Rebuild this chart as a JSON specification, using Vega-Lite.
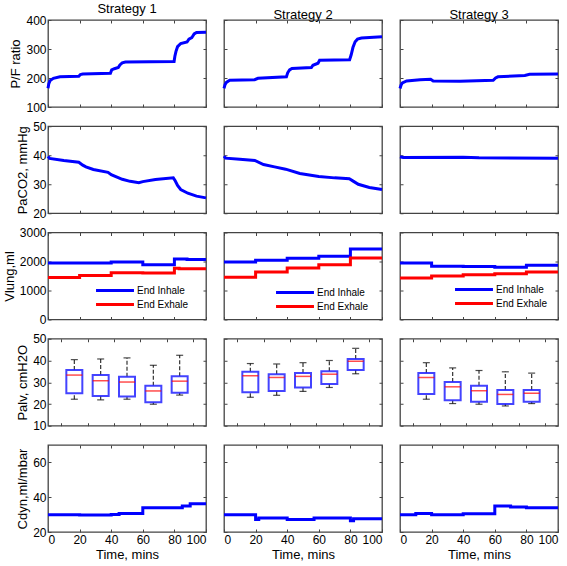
{
"$schema": "https://vega.github.io/schema/vega-lite/v6.json",
"padding": {"left": 2, "top": 2, "right": 2, "bottom": 2},
"datasets": {
"pf": [
{"s":1,"t":0,"v":165},{"s":1,"t":0.5,"v":180},{"s":1,"t":1.3,"v":191},{"s":1,"t":3.4,"v":199},{"s":1,"t":7.6,"v":204},{"s":1,"t":19.5,"v":206},{"s":1,"t":20.5,"v":212},{"s":1,"t":22,"v":214},{"s":1,"t":39.5,"v":216},{"s":1,"t":40.3,"v":228},{"s":1,"t":42,"v":232},{"s":1,"t":44.5,"v":236},{"s":1,"t":45.5,"v":245},{"s":1,"t":47,"v":252},{"s":1,"t":49,"v":255},{"s":1,"t":79.8,"v":257},{"s":1,"t":80.3,"v":275},{"s":1,"t":81,"v":292},{"s":1,"t":82,"v":308},{"s":1,"t":84,"v":319},{"s":1,"t":88,"v":324},{"s":1,"t":89.2,"v":334},{"s":1,"t":91,"v":339},{"s":1,"t":92.5,"v":352},{"s":1,"t":94,"v":357},{"s":1,"t":100,"v":358},
{"s":2,"t":0,"v":164},{"s":2,"t":0.7,"v":178},{"s":2,"t":1.5,"v":185},{"s":2,"t":3.6,"v":192},{"s":2,"t":19.4,"v":194},{"s":2,"t":21.5,"v":199},{"s":2,"t":39.5,"v":204},{"s":2,"t":40.3,"v":218},{"s":2,"t":41.5,"v":228},{"s":2,"t":43,"v":233},{"s":2,"t":55.3,"v":236},{"s":2,"t":56.3,"v":244},{"s":2,"t":59.5,"v":251},{"s":2,"t":60.5,"v":261},{"s":2,"t":79.5,"v":263},{"s":2,"t":80.5,"v":280},{"s":2,"t":81.6,"v":305},{"s":2,"t":83,"v":325},{"s":2,"t":84.5,"v":334},{"s":2,"t":87,"v":338},{"s":2,"t":100,"v":342},
{"s":3,"t":0,"v":164},{"s":3,"t":0.7,"v":176},{"s":3,"t":1.5,"v":183},{"s":3,"t":4.2,"v":190},{"s":3,"t":12.7,"v":194},{"s":3,"t":19.4,"v":196},{"s":3,"t":21,"v":190},{"s":3,"t":38,"v":189},{"s":3,"t":59,"v":192},{"s":3,"t":60.5,"v":200},{"s":3,"t":62,"v":204},{"s":3,"t":79,"v":209},{"s":3,"t":82,"v":213},{"s":3,"t":100,"v":214}
],
"paco2": [
{"s":1,"t":0,"v":39.6},{"s":1,"t":1,"v":38.9},{"s":1,"t":10,"v":38.2},{"s":1,"t":19.5,"v":37.6},{"s":1,"t":22,"v":36.6},{"s":1,"t":24,"v":36.0},{"s":1,"t":28.7,"v":35.1},{"s":1,"t":38,"v":34.1},{"s":1,"t":40,"v":33.3},{"s":1,"t":47,"v":31.7},{"s":1,"t":52,"v":31},{"s":1,"t":57.5,"v":30.5},{"s":1,"t":60,"v":30.9},{"s":1,"t":68,"v":31.6},{"s":1,"t":79.3,"v":32.2},{"s":1,"t":80.5,"v":31.2},{"s":1,"t":82,"v":29.6},{"s":1,"t":84,"v":28.2},{"s":1,"t":88.5,"v":26.9},{"s":1,"t":94,"v":25.9},{"s":1,"t":100,"v":25.3},
{"s":2,"t":0,"v":39.7},{"s":2,"t":1,"v":39.0},{"s":2,"t":10,"v":38.6},{"s":2,"t":19.5,"v":38.2},{"s":2,"t":25,"v":36.8},{"s":2,"t":32,"v":36},{"s":2,"t":39,"v":35.2},{"s":2,"t":48,"v":33.7},{"s":2,"t":60,"v":32.7},{"s":2,"t":70,"v":32.2},{"s":2,"t":79.3,"v":31.9},{"s":2,"t":82,"v":31},{"s":2,"t":85,"v":30},{"s":2,"t":92,"v":28.9},{"s":2,"t":100,"v":28.2},
{"s":3,"t":0,"v":39.5},{"s":3,"t":2,"v":39.2},{"s":3,"t":40,"v":39.3},{"s":3,"t":50,"v":39.1},{"s":3,"t":100,"v":39.0}
],
"vlung": [
{"s":1,"k":"End Inhale","t":0,"v":1950},{"s":1,"k":"End Inhale","t":40,"v":1980},{"s":1,"k":"End Inhale","t":60,"v":1890},{"s":1,"k":"End Inhale","t":80,"v":2090},{"s":1,"k":"End Inhale","t":88,"v":2070},{"s":1,"k":"End Inhale","t":100,"v":2070},
{"s":1,"k":"End Exhale","t":0,"v":1450},{"s":1,"k":"End Exhale","t":20,"v":1520},{"s":1,"k":"End Exhale","t":40,"v":1610},{"s":1,"k":"End Exhale","t":60,"v":1600},{"s":1,"k":"End Exhale","t":80,"v":1770},{"s":1,"k":"End Exhale","t":83,"v":1750},{"s":1,"k":"End Exhale","t":100,"v":1750},
{"s":2,"k":"End Inhale","t":0,"v":1980},{"s":2,"k":"End Inhale","t":20,"v":2040},{"s":2,"k":"End Inhale","t":40,"v":2110},{"s":2,"k":"End Inhale","t":60,"v":2180},{"s":2,"k":"End Inhale","t":80,"v":2430},{"s":2,"k":"End Inhale","t":100,"v":2430},
{"s":2,"k":"End Exhale","t":0,"v":1460},{"s":2,"k":"End Exhale","t":20,"v":1640},{"s":2,"k":"End Exhale","t":40,"v":1775},{"s":2,"k":"End Exhale","t":60,"v":1890},{"s":2,"k":"End Exhale","t":80,"v":2120},{"s":2,"k":"End Exhale","t":100,"v":2120},
{"s":3,"k":"End Inhale","t":0,"v":1950},{"s":3,"k":"End Inhale","t":20,"v":1840},{"s":3,"k":"End Inhale","t":40,"v":1830},{"s":3,"k":"End Inhale","t":60,"v":1800},{"s":3,"k":"End Inhale","t":80,"v":1870},{"s":3,"k":"End Inhale","t":100,"v":1870},
{"s":3,"k":"End Exhale","t":0,"v":1430},{"s":3,"k":"End Exhale","t":20,"v":1500},{"s":3,"k":"End Exhale","t":40,"v":1540},{"s":3,"k":"End Exhale","t":60,"v":1580},{"s":3,"k":"End Exhale","t":80,"v":1640},{"s":3,"k":"End Exhale","t":100,"v":1640}
],
"palv": [
{"s":1,"t":10,"lo":22.2,"q1":24.9,"med":33.3,"q3":35.6,"hi":40.4},{"s":1,"t":30,"lo":21.9,"q1":23.7,"med":30.7,"q3":33.3,"hi":40.7},{"s":1,"t":50,"lo":22.2,"q1":23.5,"med":30.1,"q3":32.5,"hi":41.2},{"s":1,"t":70,"lo":19.9,"q1":20.8,"med":26,"q3":28.4,"hi":37.8},{"s":1,"t":90,"lo":24.1,"q1":25.2,"med":30.5,"q3":32.8,"hi":42.4},
{"s":2,"t":10,"lo":23.1,"q1":25.4,"med":33,"q3":34.8,"hi":38.6},{"s":2,"t":30,"lo":24,"q1":26,"med":32.2,"q3":33.7,"hi":38.4},{"s":2,"t":50,"lo":25.8,"q1":27.6,"med":32.7,"q3":34.2,"hi":39},{"s":2,"t":70,"lo":27.6,"q1":29.2,"med":33.7,"q3":35.1,"hi":40},{"s":2,"t":90,"lo":33.9,"q1":35.6,"med":39.7,"q3":40.7,"hi":45.6},
{"s":3,"t":10,"lo":22.2,"q1":24.6,"med":32.2,"q3":34.3,"hi":39},{"s":3,"t":30,"lo":20.2,"q1":21.7,"med":27.9,"q3":30.1,"hi":36.6},{"s":3,"t":50,"lo":19.9,"q1":21,"med":26.1,"q3":28.4,"hi":35.4},{"s":3,"t":70,"lo":19.1,"q1":20,"med":24.4,"q3":26.4,"hi":34.8},{"s":3,"t":90,"lo":20.2,"q1":21,"med":24.9,"q3":26.4,"hi":34.2}
],
"cdyn": [
{"s":1,"t":0,"v":29.9},{"s":1,"t":20,"v":29.7},{"s":1,"t":40,"v":30.1},{"s":1,"t":45,"v":30.7},{"s":1,"t":60,"v":33.9},{"s":1,"t":85,"v":34.9},{"s":1,"t":90,"v":36.2},{"s":1,"t":100,"v":36.2},
{"s":2,"t":0,"v":29.9},{"s":2,"t":20,"v":27.2},{"s":2,"t":22,"v":28},{"s":2,"t":40,"v":27.2},{"s":2,"t":57,"v":28},{"s":2,"t":80,"v":26.5},{"s":2,"t":82,"v":27.6},{"s":2,"t":100,"v":27.6},
{"s":3,"t":0,"v":29.9},{"s":3,"t":10,"v":30.7},{"s":3,"t":20,"v":29.9},{"s":3,"t":40,"v":30.5},{"s":3,"t":60,"v":34.9},{"s":3,"t":70,"v":34.3},{"s":3,"t":80,"v":33.9},{"s":3,"t":100,"v":33.9}
]
},
"columns": 3,
"spacing": {"row": 19.25, "column": 18},
"bounds": "flush",
"resolve": {"scale": {"color": "independent"}},
"concat": [
{"width":158,"height":87,"title":"Strategy 1","data":{"name":"pf"},"transform":[{"filter":"datum.s==1"}],
 "layer":[
 {"mark":"line","encoding":{"x":{"field":"t","type":"quantitative","scale":{"domain":[0,100]},"axis":{"values":[0,20,40,60,80,100],"labels":false,"title":null}},"y":{"field":"v","type":"quantitative","scale":{"domain":[100,400]},"axis":{"values":[100,200,300,400],"title":"P/F ratio"}}}},
 {"mark":{"type":"line","opacity":0},"encoding":{"x":{"field":"t","type":"quantitative","axis":{"orient":"top","values":[0,20,40,60,80,100],"labels":false,"title":null}},"y":{"field":"v","type":"quantitative","axis":{"orient":"right","values":[100,200,300,400],"labels":false,"title":null}}}}
 ],"resolve":{"axis":{"x":"independent","y":"independent"}}},
{"width":158,"height":87,"title":"Strategy 2","data":{"name":"pf"},"transform":[{"filter":"datum.s==2"}],
 "layer":[
 {"mark":"line","encoding":{"x":{"field":"t","type":"quantitative","scale":{"domain":[0,100]},"axis":{"values":[0,20,40,60,80,100],"labels":false,"title":null}},"y":{"field":"v","type":"quantitative","scale":{"domain":[100,400]},"axis":{"values":[100,200,300,400],"labels":false,"title":null}}}},
 {"mark":{"type":"line","opacity":0},"encoding":{"x":{"field":"t","type":"quantitative","axis":{"orient":"top","values":[0,20,40,60,80,100],"labels":false,"title":null}},"y":{"field":"v","type":"quantitative","axis":{"orient":"right","values":[100,200,300,400],"labels":false,"title":null}}}}
 ],"resolve":{"axis":{"x":"independent","y":"independent"}}},
{"width":158,"height":87,"title":"Strategy 3","data":{"name":"pf"},"transform":[{"filter":"datum.s==3"}],
 "layer":[
 {"mark":"line","encoding":{"x":{"field":"t","type":"quantitative","scale":{"domain":[0,100]},"axis":{"values":[0,20,40,60,80,100],"labels":false,"title":null}},"y":{"field":"v","type":"quantitative","scale":{"domain":[100,400]},"axis":{"values":[100,200,300,400],"labels":false,"title":null}}}},
 {"mark":{"type":"line","opacity":0},"encoding":{"x":{"field":"t","type":"quantitative","axis":{"orient":"top","values":[0,20,40,60,80,100],"labels":false,"title":null}},"y":{"field":"v","type":"quantitative","axis":{"orient":"right","values":[100,200,300,400],"labels":false,"title":null}}}}
 ],"resolve":{"axis":{"x":"independent","y":"independent"}}},

{"width":158,"height":87,"data":{"name":"paco2"},"transform":[{"filter":"datum.s==1"}],
 "layer":[
 {"mark":"line","encoding":{"x":{"field":"t","type":"quantitative","scale":{"domain":[0,100]},"axis":{"values":[0,20,40,60,80,100],"labels":false,"title":null}},"y":{"field":"v","type":"quantitative","scale":{"domain":[20,50]},"axis":{"values":[20,30,40,50],"title":"PaCO2, mmHg"}}}},
 {"mark":{"type":"line","opacity":0},"encoding":{"x":{"field":"t","type":"quantitative","axis":{"orient":"top","values":[0,20,40,60,80,100],"labels":false,"title":null}},"y":{"field":"v","type":"quantitative","axis":{"orient":"right","values":[20,30,40,50],"labels":false,"title":null}}}}
 ],"resolve":{"axis":{"x":"independent","y":"independent"}}},
{"width":158,"height":87,"data":{"name":"paco2"},"transform":[{"filter":"datum.s==2"}],
 "layer":[
 {"mark":"line","encoding":{"x":{"field":"t","type":"quantitative","scale":{"domain":[0,100]},"axis":{"values":[0,20,40,60,80,100],"labels":false,"title":null}},"y":{"field":"v","type":"quantitative","scale":{"domain":[20,50]},"axis":{"values":[20,30,40,50],"labels":false,"title":null}}}},
 {"mark":{"type":"line","opacity":0},"encoding":{"x":{"field":"t","type":"quantitative","axis":{"orient":"top","values":[0,20,40,60,80,100],"labels":false,"title":null}},"y":{"field":"v","type":"quantitative","axis":{"orient":"right","values":[20,30,40,50],"labels":false,"title":null}}}}
 ],"resolve":{"axis":{"x":"independent","y":"independent"}}},
{"width":158,"height":87,"data":{"name":"paco2"},"transform":[{"filter":"datum.s==3"}],
 "layer":[
 {"mark":"line","encoding":{"x":{"field":"t","type":"quantitative","scale":{"domain":[0,100]},"axis":{"values":[0,20,40,60,80,100],"labels":false,"title":null}},"y":{"field":"v","type":"quantitative","scale":{"domain":[20,50]},"axis":{"values":[20,30,40,50],"labels":false,"title":null}}}},
 {"mark":{"type":"line","opacity":0},"encoding":{"x":{"field":"t","type":"quantitative","axis":{"orient":"top","values":[0,20,40,60,80,100],"labels":false,"title":null}},"y":{"field":"v","type":"quantitative","axis":{"orient":"right","values":[20,30,40,50],"labels":false,"title":null}}}}
 ],"resolve":{"axis":{"x":"independent","y":"independent"}}},

{"width":158,"height":87,"data":{"name":"vlung"},"transform":[{"filter":"datum.s==1"}],
 "layer":[
 {"mark":{"type":"line","interpolate":"step-after"},"encoding":{"x":{"field":"t","type":"quantitative","scale":{"domain":[0,100]},"axis":{"values":[0,20,40,60,80,100],"labels":false,"title":null}},"y":{"field":"v","type":"quantitative","scale":{"domain":[0,3000]},"axis":{"values":[0,1000,2000,3000],"format":"d","title":"Vlung,ml"}},
  "color":{"field":"k","type":"nominal","scale":{"domain":["End Inhale","End Exhale"],"range":["#0000ff","#ff0000"]},"legend":{"orient":"none","legendX":62,"legendY":53,"title":null,"symbolType":"M-10,0H10","symbolSize":14.4,"symbolStrokeWidth":3,"labelFont":"Liberation Sans","labelFontSize":10,"labelColor":"#000","rowPadding":2,"labelOffset":17,"padding":0}}}},
 {"mark":{"type":"line","opacity":0},"encoding":{"x":{"field":"t","type":"quantitative","axis":{"orient":"top","values":[0,20,40,60,80,100],"labels":false,"title":null}},"y":{"field":"v","type":"quantitative","axis":{"orient":"right","values":[0,1000,2000,3000],"labels":false,"title":null}}}}
 ],"resolve":{"axis":{"x":"independent","y":"independent"}}},
{"width":158,"height":87,"data":{"name":"vlung"},"transform":[{"filter":"datum.s==2"}],
 "layer":[
 {"mark":{"type":"line","interpolate":"step-after"},"encoding":{"x":{"field":"t","type":"quantitative","scale":{"domain":[0,100]},"axis":{"values":[0,20,40,60,80,100],"labels":false,"title":null}},"y":{"field":"v","type":"quantitative","scale":{"domain":[0,3000]},"axis":{"values":[0,1000,2000,3000],"labels":false,"title":null}},
  "color":{"field":"k","type":"nominal","scale":{"domain":["End Inhale","End Exhale"],"range":["#0000ff","#ff0000"]},"legend":{"orient":"none","legendX":66,"legendY":55,"title":null,"symbolType":"M-10,0H10","symbolSize":14.4,"symbolStrokeWidth":3,"labelFont":"Liberation Sans","labelFontSize":10,"labelColor":"#000","rowPadding":2,"labelOffset":17,"padding":0}}}},
 {"mark":{"type":"line","opacity":0},"encoding":{"x":{"field":"t","type":"quantitative","axis":{"orient":"top","values":[0,20,40,60,80,100],"labels":false,"title":null}},"y":{"field":"v","type":"quantitative","axis":{"orient":"right","values":[0,1000,2000,3000],"labels":false,"title":null}}}}
 ],"resolve":{"axis":{"x":"independent","y":"independent"}}},
{"width":158,"height":87,"data":{"name":"vlung"},"transform":[{"filter":"datum.s==3"}],
 "layer":[
 {"mark":{"type":"line","interpolate":"step-after"},"encoding":{"x":{"field":"t","type":"quantitative","scale":{"domain":[0,100]},"axis":{"values":[0,20,40,60,80,100],"labels":false,"title":null}},"y":{"field":"v","type":"quantitative","scale":{"domain":[0,3000]},"axis":{"values":[0,1000,2000,3000],"labels":false,"title":null}},
  "color":{"field":"k","type":"nominal","scale":{"domain":["End Inhale","End Exhale"],"range":["#0000ff","#ff0000"]},"legend":{"orient":"none","legendX":69,"legendY":52,"title":null,"symbolType":"M-10,0H10","symbolSize":14.4,"symbolStrokeWidth":3,"labelFont":"Liberation Sans","labelFontSize":10,"labelColor":"#000","rowPadding":2,"labelOffset":17,"padding":0}}}},
 {"mark":{"type":"line","opacity":0},"encoding":{"x":{"field":"t","type":"quantitative","axis":{"orient":"top","values":[0,20,40,60,80,100],"labels":false,"title":null}},"y":{"field":"v","type":"quantitative","axis":{"orient":"right","values":[0,1000,2000,3000],"labels":false,"title":null}}}}
 ],"resolve":{"axis":{"x":"independent","y":"independent"}}},

{"width":158,"height":87,"data":{"name":"palv"},"transform":[{"filter":"datum.s==1"}],
 "layer":[
 {"encoding":{"x":{"field":"t","type":"quantitative","scale":{"domain":[0,100]},"axis":{"values":[0,20,40,60,80,100],"labels":false,"title":null}}},
  "layer":[
  {"mark":{"type":"rule","color":"#333","strokeWidth":1.2,"strokeDash":[4,2]},"encoding":{"y":{"field":"lo","type":"quantitative","scale":{"domain":[10,50]},"axis":{"values":[10,20,30,40,50],"labelOverlap":false,"title":"Palv, cmH2O"}},"y2":{"field":"q1"}}},
  {"mark":{"type":"rule","color":"#333","strokeWidth":1.2,"strokeDash":[4,2]},"encoding":{"y":{"field":"q3","type":"quantitative","axis":{"values":[10,20,30,40,50],"labelOverlap":false,"title":"Palv, cmH2O"}},"y2":{"field":"hi"}}},
  {"mark":{"type":"tick","orient":"horizontal","color":"#000","size":7,"thickness":1.2},"encoding":{"y":{"field":"lo","type":"quantitative","axis":{"values":[10,20,30,40,50],"labelOverlap":false,"title":"Palv, cmH2O"}}}},
  {"mark":{"type":"tick","orient":"horizontal","color":"#000","size":7,"thickness":1.2},"encoding":{"y":{"field":"hi","type":"quantitative","axis":{"values":[10,20,30,40,50],"labelOverlap":false,"title":"Palv, cmH2O"}}}},
  {"mark":{"type":"bar","size":16,"fill":"#fff","stroke":"#2222ff","strokeWidth":2,"strokeOpacity":0.85},"encoding":{"y":{"field":"q1","type":"quantitative","axis":{"values":[10,20,30,40,50],"labelOverlap":false,"title":"Palv, cmH2O"}},"y2":{"field":"q3"}}},
  {"mark":{"type":"tick","orient":"horizontal","color":"#ff0000","size":16,"thickness":1.5},"encoding":{"y":{"field":"med","type":"quantitative","axis":{"values":[10,20,30,40,50],"labelOverlap":false,"title":"Palv, cmH2O"}}}}
  ]},
 {"mark":{"type":"rule","opacity":0},"encoding":{"x":{"field":"t","type":"quantitative","axis":{"orient":"top","values":[0,20,40,60,80,100],"labels":false,"title":null}},"y":{"field":"med","type":"quantitative","axis":{"orient":"right","values":[10,20,30,40,50],"labels":false,"title":null}}}}
 ],"resolve":{"axis":{"x":"independent","y":"independent"}}},
{"width":158,"height":87,"data":{"name":"palv"},"transform":[{"filter":"datum.s==2"}],
 "layer":[
 {"encoding":{"x":{"field":"t","type":"quantitative","scale":{"domain":[0,100]},"axis":{"values":[0,20,40,60,80,100],"labels":false,"title":null}}},
  "layer":[
  {"mark":{"type":"rule","color":"#333","strokeWidth":1.2,"strokeDash":[4,2]},"encoding":{"y":{"field":"lo","type":"quantitative","scale":{"domain":[10,50]},"axis":{"values":[10,20,30,40,50],"labels":false,"title":null}},"y2":{"field":"q1"}}},
  {"mark":{"type":"rule","color":"#333","strokeWidth":1.2,"strokeDash":[4,2]},"encoding":{"y":{"field":"q3","type":"quantitative","axis":{"values":[10,20,30,40,50],"labels":false,"title":null}},"y2":{"field":"hi"}}},
  {"mark":{"type":"tick","orient":"horizontal","color":"#000","size":7,"thickness":1.2},"encoding":{"y":{"field":"lo","type":"quantitative","axis":{"values":[10,20,30,40,50],"labels":false,"title":null}}}},
  {"mark":{"type":"tick","orient":"horizontal","color":"#000","size":7,"thickness":1.2},"encoding":{"y":{"field":"hi","type":"quantitative","axis":{"values":[10,20,30,40,50],"labels":false,"title":null}}}},
  {"mark":{"type":"bar","size":16,"fill":"#fff","stroke":"#2222ff","strokeWidth":2,"strokeOpacity":0.85},"encoding":{"y":{"field":"q1","type":"quantitative","axis":{"values":[10,20,30,40,50],"labels":false,"title":null}},"y2":{"field":"q3"}}},
  {"mark":{"type":"tick","orient":"horizontal","color":"#ff0000","size":16,"thickness":1.5},"encoding":{"y":{"field":"med","type":"quantitative","axis":{"values":[10,20,30,40,50],"labels":false,"title":null}}}}
  ]},
 {"mark":{"type":"rule","opacity":0},"encoding":{"x":{"field":"t","type":"quantitative","axis":{"orient":"top","values":[0,20,40,60,80,100],"labels":false,"title":null}},"y":{"field":"med","type":"quantitative","axis":{"orient":"right","values":[10,20,30,40,50],"labels":false,"title":null}}}}
 ],"resolve":{"axis":{"x":"independent","y":"independent"}}},
{"width":158,"height":87,"data":{"name":"palv"},"transform":[{"filter":"datum.s==3"}],
 "layer":[
 {"encoding":{"x":{"field":"t","type":"quantitative","scale":{"domain":[0,100]},"axis":{"values":[0,20,40,60,80,100],"labels":false,"title":null}}},
  "layer":[
  {"mark":{"type":"rule","color":"#333","strokeWidth":1.2,"strokeDash":[4,2]},"encoding":{"y":{"field":"lo","type":"quantitative","scale":{"domain":[10,50]},"axis":{"values":[10,20,30,40,50],"labels":false,"title":null}},"y2":{"field":"q1"}}},
  {"mark":{"type":"rule","color":"#333","strokeWidth":1.2,"strokeDash":[4,2]},"encoding":{"y":{"field":"q3","type":"quantitative","axis":{"values":[10,20,30,40,50],"labels":false,"title":null}},"y2":{"field":"hi"}}},
  {"mark":{"type":"tick","orient":"horizontal","color":"#000","size":7,"thickness":1.2},"encoding":{"y":{"field":"lo","type":"quantitative","axis":{"values":[10,20,30,40,50],"labels":false,"title":null}}}},
  {"mark":{"type":"tick","orient":"horizontal","color":"#000","size":7,"thickness":1.2},"encoding":{"y":{"field":"hi","type":"quantitative","axis":{"values":[10,20,30,40,50],"labels":false,"title":null}}}},
  {"mark":{"type":"bar","size":16,"fill":"#fff","stroke":"#2222ff","strokeWidth":2,"strokeOpacity":0.85},"encoding":{"y":{"field":"q1","type":"quantitative","axis":{"values":[10,20,30,40,50],"labels":false,"title":null}},"y2":{"field":"q3"}}},
  {"mark":{"type":"tick","orient":"horizontal","color":"#ff0000","size":16,"thickness":1.5},"encoding":{"y":{"field":"med","type":"quantitative","axis":{"values":[10,20,30,40,50],"labels":false,"title":null}}}}
  ]},
 {"mark":{"type":"rule","opacity":0},"encoding":{"x":{"field":"t","type":"quantitative","axis":{"orient":"top","values":[0,20,40,60,80,100],"labels":false,"title":null}},"y":{"field":"med","type":"quantitative","axis":{"orient":"right","values":[10,20,30,40,50],"labels":false,"title":null}}}}
 ],"resolve":{"axis":{"x":"independent","y":"independent"}}},

{"width":158,"height":87,"data":{"name":"cdyn"},"transform":[{"filter":"datum.s==1"}],
 "layer":[
 {"mark":{"type":"line","interpolate":"step-after"},"encoding":{"x":{"field":"t","type":"quantitative","scale":{"domain":[0,100]},"axis":{"values":[0,20,40,60,80,100],"title":"Time, mins"}},"y":{"field":"v","type":"quantitative","scale":{"domain":[20,70]},"axis":{"values":[20,40,60],"title":"Cdyn,ml/mbar"}}}},
 {"mark":{"type":"line","opacity":0},"encoding":{"x":{"field":"t","type":"quantitative","axis":{"orient":"top","values":[0,20,40,60,80,100],"labels":false,"title":null}},"y":{"field":"v","type":"quantitative","axis":{"orient":"right","values":[20,40,60],"labels":false,"title":null}}}}
 ],"resolve":{"axis":{"x":"independent","y":"independent"}}},
{"width":158,"height":87,"data":{"name":"cdyn"},"transform":[{"filter":"datum.s==2"}],
 "layer":[
 {"mark":{"type":"line","interpolate":"step-after"},"encoding":{"x":{"field":"t","type":"quantitative","scale":{"domain":[0,100]},"axis":{"values":[0,20,40,60,80,100],"title":"Time, mins"}},"y":{"field":"v","type":"quantitative","scale":{"domain":[20,70]},"axis":{"values":[20,40,60],"labels":false,"title":null}}}},
 {"mark":{"type":"line","opacity":0},"encoding":{"x":{"field":"t","type":"quantitative","axis":{"orient":"top","values":[0,20,40,60,80,100],"labels":false,"title":null}},"y":{"field":"v","type":"quantitative","axis":{"orient":"right","values":[20,40,60],"labels":false,"title":null}}}}
 ],"resolve":{"axis":{"x":"independent","y":"independent"}}},
{"width":158,"height":87,"data":{"name":"cdyn"},"transform":[{"filter":"datum.s==3"}],
 "layer":[
 {"mark":{"type":"line","interpolate":"step-after"},"encoding":{"x":{"field":"t","type":"quantitative","scale":{"domain":[0,100]},"axis":{"values":[0,20,40,60,80,100],"title":"Time, mins"}},"y":{"field":"v","type":"quantitative","scale":{"domain":[20,70]},"axis":{"values":[20,40,60],"labels":false,"title":null}}}},
 {"mark":{"type":"line","opacity":0},"encoding":{"x":{"field":"t","type":"quantitative","axis":{"orient":"top","values":[0,20,40,60,80,100],"labels":false,"title":null}},"y":{"field":"v","type":"quantitative","axis":{"orient":"right","values":[20,40,60],"labels":false,"title":null}}}}
 ],"resolve":{"axis":{"x":"independent","y":"independent"}}}
],
"config": {
 "background": "#ffffff",
 "view": {"stroke": "#444", "strokeWidth": 1.3},
 "axis": {"grid": false, "domain": false, "tickSize": -3, "tickColor": "#444", "tickWidth": 1, "labelOverlap": false, "labelFont": "Liberation Sans", "labelFontSize": 12, "labelColor": "#000", "labelPadding": 5, "titleFont": "Liberation Sans", "titleFontSize": 13, "titleFontWeight": "normal", "titleColor": "#000", "titlePadding": 3},
 "title": {"font": "Liberation Sans", "fontSize": 13, "fontWeight": "normal", "offset": -2, "color": "#000"},
 "line": {"color": "#0000ff", "strokeWidth": 3}
}
}
